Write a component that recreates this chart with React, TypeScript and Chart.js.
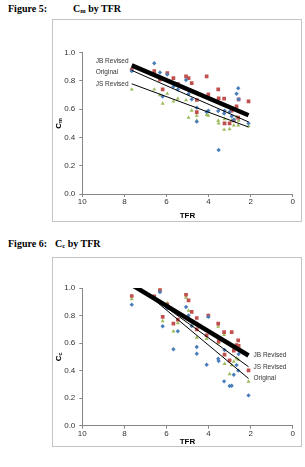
import React, { useEffect, useRef } from "react";
import { Chart, registerables } from "chart.js";

Chart.register(...registerables);

// Total fertility rate of each country (shared x values)
const TFR = [
  7.65, 6.58, 6.31, 6.18, 5.96, 5.67, 5.46, 5.07, 4.95, 4.8, 4.56, 4.56, 4.09,
  4.01, 3.54, 3.52, 3.26, 3.24, 3.0, 2.9, 2.8, 2.67, 2.59, 2.57, 2.1,
];

// Figure 5: Cm
const cmOriginal = [
  0.87, 0.925, 0.86, 0.69, 0.845, 0.76, 0.74, 0.807, 0.708, 0.67, 0.611, 0.512,
  0.58, 0.59, 0.587, 0.311, 0.57, 0.59, 0.58, 0.55, 0.525, 0.71, 0.748, 0.67, 0.5,
];
const cmJBRevised = [
  0.88, 0.87, 0.81, 0.74, 0.855, 0.82, 0.78, 0.833, 0.82, 0.785, 0.665, 0.58,
  0.833, 0.705, 0.74, 0.677, 0.675, 0.5, 0.5, 0.59, 0.52, 0.62, 0.54, 0.67, 0.655,
];
const cmJSRevised = [
  0.74, 0.74, 0.7, 0.64, 0.71, 0.655, 0.675, 0.664, 0.54, 0.59, 0.555, 0.52,
  0.56, 0.555, 0.52, 0.5, 0.455, 0.53, 0.46, 0.52, 0.485, 0.545, 0.485, 0.52, 0.48,
];

// Figure 6: Cc
const ccOriginal = [
  0.879, 0.93, 0.97, 0.722, 0.855, 0.555, 0.686, 0.862, 0.8, 0.724, 0.572, 0.523,
  0.443, 0.79, 0.487, 0.47, 0.322, 0.55, 0.288, 0.29, 0.37, 0.44, 0.4, 0.52, 0.22,
];
const ccJBRevised = [
  0.942, 0.94, 0.985, 0.79, 0.88, 0.741, 0.77, 0.951, 0.91, 0.826, 0.782, 0.7,
  0.656, 0.8, 0.741, 0.613, 0.68, 0.516, 0.475, 0.68, 0.545, 0.585, 0.62, 0.58, 0.402,
];
const ccJSRevised = [
  0.92, 0.935, 0.983, 0.76, 0.89, 0.686, 0.745, 0.93, 0.835, 0.73, 0.7, 0.64,
  0.63, 0.8, 0.72, 0.6, 0.66, 0.45, 0.375, 0.44, 0.465, 0.49, 0.48, 0.575, 0.32,
];

// Linear trend lines, evaluated at the ends of the TFR range
const TREND_X = [7.65, 2.1];
const cmTrendJB = [0.91, 0.557];
const cmTrendOriginal = [0.875, 0.51];
const cmTrendJS = [0.78, 0.474];
const ccTrendJB = [1.023, 0.51];
const ccTrendJS = [1.04, 0.428];
const ccTrendOriginal = [1.05, 0.343];

const SERIES_NAMES = ["JB Revised", "Original", "JS Revised"];

const BLUE = "#4a7ebb";
const RED = "#c0504d";
const GREEN = "#9bbb59";
const AXIS = "#868686";
const TEXT = "#333333";
const SANS = "'Liberation Sans', Arial, sans-serif";

type Spec = {
  width: number;
  height: number;
  padTop: number;
  padRight: number;
  yAxisWidth: number;
  xAxisHeight: number;
  xTitlePad: number;
  sub: string;
  original: number[];
  jb: number[];
  js: number[];
  trendJB: number[];
  trendOriginal: number[];
  trendJS: number[];
  labels: (chart: any) => { text: string; x: number; y: number }[];
};

const points = (ys: number[]) => TFR.map((x, i) => ({ x, y: ys[i] }));
const trend = (ys: number[]) => TREND_X.map((x, i) => ({ x, y: ys[i] }));

function scatterSet(ys: number[], color: string, style: string, r: number) {
  return {
    data: points(ys),
    pointStyle: style,
    pointRadius: r,
    backgroundColor: color,
    borderColor: color,
    borderWidth: 0,
    showLine: false,
    order: 1,
  };
}

function trendSet(ys: number[], width: number) {
  return {
    data: trend(ys),
    showLine: true,
    borderColor: "#000",
    backgroundColor: "#000",
    borderWidth: width,
    pointRadius: 0,
    clip: 0,
    order: 0,
  };
}

function TFRChart({ spec }: { spec: Spec }) {
  const ref = useRef<HTMLCanvasElement | null>(null);

  useEffect(() => {
    if (!ref.current) return;
    const textPlugin = {
      id: "textLayer",
      afterDraw(chart: any) {
        const { ctx, chartArea } = chart;
        ctx.save();
        // rotated y-axis title with subscript
        const cx = chartArea.left - 24;
        const cy = (chartArea.top + chartArea.bottom) / 2;
        ctx.translate(cx, cy);
        ctx.rotate(-Math.PI / 2);
        ctx.fillStyle = "#000";
        ctx.textBaseline = "middle";
        ctx.font = `bold 8px ${SANS}`;
        const wC = ctx.measureText("C").width;
        ctx.font = `bold 5.5px ${SANS}`;
        const wS = ctx.measureText(spec.sub).width;
        const x0 = -(wC + wS) / 2;
        ctx.font = `bold 8px ${SANS}`;
        ctx.textAlign = "left";
        ctx.fillText("C", x0, 0);
        ctx.font = `bold 5.5px ${SANS}`;
        ctx.fillText(spec.sub, x0 + wC, 2.5);
        ctx.restore();

        ctx.save();
        ctx.fillStyle = TEXT;
        ctx.font = `6.5px ${SANS}`;
        ctx.textAlign = "left";
        ctx.textBaseline = "middle";
        for (const l of spec.labels(chart)) ctx.fillText(l.text, l.x, l.y);
        ctx.restore();
      },
    };

    const tickFont = { family: SANS, size: 8 };
    const chart = new Chart(ref.current, {
      type: "scatter",
      data: {
        datasets: [
          trendSet(spec.trendJB, 4.5),
          trendSet(spec.trendOriginal, 1),
          trendSet(spec.trendJS, 1),
          scatterSet(spec.original, BLUE, "rectRot", 2.2),
          scatterSet(spec.jb, RED, "rect", 2.6),
          scatterSet(spec.js, GREEN, "triangle", 2.3),
        ] as any,
      },
      options: {
        responsive: false,
        maintainAspectRatio: false,
        animation: false,
        events: [],
        layout: {
          padding: { top: spec.padTop, right: spec.padRight, left: 0, bottom: 0 },
        },
        plugins: {
          legend: { display: false },
          tooltip: { enabled: false },
        },
        scales: {
          x: {
            type: "linear",
            min: 0,
            max: 10,
            reverse: true,
            ticks: { stepSize: 2, font: tickFont, color: TEXT, padding: 0 },
            grid: { drawOnChartArea: false, tickLength: 3, color: AXIS },
            border: { color: AXIS },
            title: {
              display: true,
              text: "TFR",
              color: "#000",
              font: { family: SANS, size: 8, weight: "bold", lineHeight: 1 },
              padding: { top: 0, bottom: spec.xTitlePad },
            },
            afterFit: (s: any) => {
              s.height = spec.xAxisHeight;
            },
          },
          y: {
            type: "linear",
            min: 0,
            max: 1,
            ticks: {
              stepSize: 0.2,
              font: tickFont,
              color: TEXT,
              padding: 4,
              callback: (v: any) => Number(v).toFixed(1),
            },
            grid: { drawOnChartArea: false, tickLength: 3, color: AXIS },
            border: { color: AXIS },
            afterFit: (s: any) => {
              s.width = spec.yAxisWidth;
            },
          },
        },
      } as any,
      plugins: [textPlugin],
    });
    return () => chart.destroy();
  }, [spec]);

  return (
    <canvas
      ref={ref}
      width={spec.width}
      height={spec.height}
      style={{ display: "block", width: spec.width, height: spec.height }}
    />
  );
}

const fig5: Spec = {
  width: 248,
  height: 201,
  padTop: 32.7,
  padRight: 8.3,
  yAxisWidth: 29.3,
  xAxisHeight: 27,
  xTitlePad: 1.3,
  sub: "m",
  original: cmOriginal,
  jb: cmJBRevised,
  js: cmJSRevised,
  trendJB: cmTrendJB,
  trendOriginal: cmTrendOriginal,
  trendJS: cmTrendJS,
  labels: (chart: any) => {
    const a = chart.chartArea;
    return [
      { text: SERIES_NAMES[0], x: a.left + 13.4, y: a.top + 8.3 },
      { text: SERIES_NAMES[1], x: a.left + 13.4, y: a.top + 20 },
      { text: SERIES_NAMES[2], x: a.left + 13.4, y: a.top + 31.3 },
    ];
  },
};

const fig6: Spec = {
  width: 248,
  height: 188,
  padTop: 30,
  padRight: 8.3,
  yAxisWidth: 29.3,
  xAxisHeight: 20.3,
  xTitlePad: 0.3,
  sub: "c",
  original: ccOriginal,
  jb: ccJBRevised,
  js: ccJSRevised,
  trendJB: ccTrendJB,
  trendOriginal: ccTrendOriginal,
  trendJS: ccTrendJS,
  labels: (chart: any) => {
    const xs = chart.scales.x;
    const ys = chart.scales.y;
    const x = xs.getPixelForValue(TREND_X[1]) + 5;
    return [
      { text: SERIES_NAMES[0], x, y: ys.getPixelForValue(ccTrendJB[1]) },
      { text: SERIES_NAMES[2], x, y: ys.getPixelForValue(ccTrendJS[1]) },
      { text: SERIES_NAMES[1], x, y: ys.getPixelForValue(ccTrendOriginal[1]) },
    ];
  },
};

const serif = "'Liberation Serif', 'Times New Roman', serif";

function Caption({ top, num, left, sub }: { top: number; num: string; left: number; sub: string }) {
  const style: React.CSSProperties = {
    position: "absolute",
    top,
    fontFamily: serif,
    fontWeight: "bold",
    fontSize: 10,
    lineHeight: "10px",
    whiteSpace: "nowrap",
    color: "#000",
  };
  return (
    <>
      <div style={{ ...style, left: 8 }}>{`Figure ${num}:`}</div>
      <div style={{ ...style, left }}>
        C<span style={{ fontSize: "0.65em", verticalAlign: "-0.2em" }}>{sub}</span> by TFR
      </div>
    </>
  );
}

function Box({ top, height, children }: { top: number; height: number; children: React.ReactNode }) {
  return (
    <div
      style={{
        position: "absolute",
        left: 52,
        top,
        width: 250,
        height,
        boxSizing: "border-box",
        border: "1px solid #c4c4c4",
        background: "#fff",
      }}
    >
      {children}
    </div>
  );
}

export default function App() {
  return (
    <div
      style={{
        position: "absolute",
        left: 0,
        top: 0,
        width: 305,
        height: 467,
        background: "#fff",
        overflow: "hidden",
      }}
    >
      <Caption top={3.6} num="5" left={73} sub="m" />
      <Box top={19} height={203}>
        <TFRChart spec={fig5} />
      </Box>
      <Caption top={238.8} num="6" left={55} sub="c" />
      <Box top={257} height={190}>
        <TFRChart spec={fig6} />
      </Box>
    </div>
  );
}
